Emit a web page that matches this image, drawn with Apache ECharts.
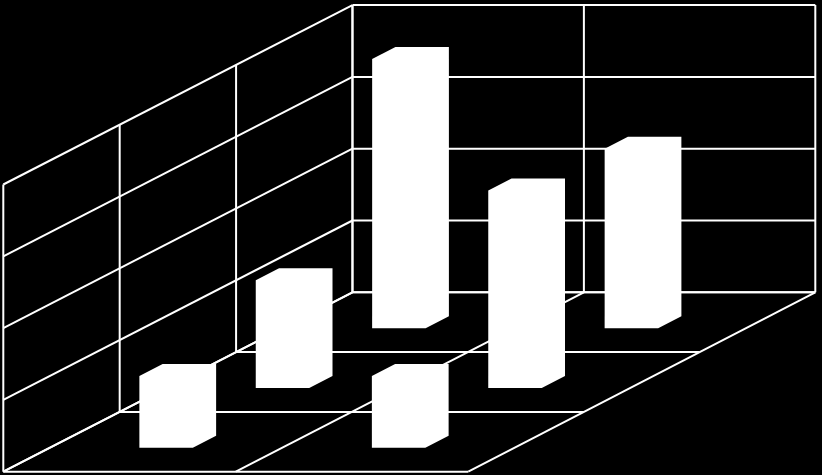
<!DOCTYPE html>
<html>
<head>
<meta charset="utf-8">
<style>html,body{margin:0;padding:0;background:#000}#c{width:822px;height:475px}</style>
<script src="https://cdn.jsdelivr.net/npm/echarts@6/dist/echarts.min.js"></script>
</head>
<body>
<div id="c"></div>
<script>
// Data (values in gridline steps)
const categoryTicks = [0, 1, 2];
const depthTicks = [0, 1, 2, 3];
const valueTicks = [0, 1, 2, 3, 4];
const rowFirstColumn = [1, 1.5, 3.75];
const rowSecondColumn = [1, 2.75, 2.5];

// Oblique projection constants
const depthShiftX = 0.5006, depthShiftY = 0.8329, backShrink = 0.00155;
const barHalfWidth = 0.115, barHalfDepth = 0.1;

const maxU = categoryTicks[categoryTicks.length - 1];
const maxD = depthTicks[depthTicks.length - 1];
const maxV = valueTicks[valueTicks.length - 1];

const segments = [];
valueTicks.forEach(v => segments.push([0, maxD, v, maxU, maxD, v]));
categoryTicks.forEach(u => segments.push([u, maxD, 0, u, maxD, maxV]));
valueTicks.forEach(v => segments.push([0, 0, v, 0, maxD, v]));
depthTicks.forEach(d => segments.push([0, d, 0, 0, d, maxV]));
depthTicks.forEach(d => segments.push([0, d, 0, maxU, d, 0]));
categoryTicks.forEach(u => segments.push([u, 0, 0, u, maxD, 0]));

const bars = [];
[rowFirstColumn, rowSecondColumn].forEach((col, c) =>
  col.forEach((val, r) => bars.push([c + 0.5, r + 0.5, val])));
// paint back rows first
bars.sort((a, b) => b[1] - a[1]);

function plane(u, d, v) { return [u + d * depthShiftX, v + d * depthShiftY]; }

const chart = echarts.init(document.getElementById('c'), null, { renderer: 'canvas' });
chart.setOption({
  animation: false,
  backgroundColor: '#000',
  grid: { left: 3.3, top: 5, width: 813.75, height: 466.7 },
  xAxis: { type: 'value', min: 0, max: 3.5, show: false },
  yAxis: { type: 'value', min: 0, max: 6.5, show: false },
  series: [
    {
      type: 'custom',
      coordinateSystem: 'cartesian2d',
      silent: true,
      clip: false,
      z: 1,
      data: segments,
      encode: { x: [0, 3], y: [2, 5] },
      renderItem(params, api) {
        const p = i => {
          const u = api.value(i), d = api.value(i + 1), v = api.value(i + 2);
          return api.coord(plane(u * (1 - backShrink * d), d, v));
        };
        const a = p(0), b = p(3);
        return {
          type: 'line',
          shape: { x1: a[0], y1: a[1], x2: b[0], y2: b[1] },
          style: { stroke: '#fff', lineWidth: 2, fill: null }
        };
      }
    },
    {
      type: 'custom',
      coordinateSystem: 'cartesian2d',
      silent: true,
      clip: false,
      z: 2,
      data: bars,
      encode: { x: 0, y: 2 },
      renderItem(params, api) {
        const u = api.value(0), d = api.value(1), val = api.value(2);
        const u0 = u - barHalfWidth, u1 = u + barHalfWidth;
        const d0 = d - barHalfDepth, d1 = d + barHalfDepth;
        const corners = [
          [u0, d0, 0], [u1, d0, 0], [u1, d1, 0],
          [u1, d1, val], [u0, d1, val], [u0, d0, val]
        ];
        return {
          type: 'polygon',
          shape: { points: corners.map(c => api.coord(plane(c[0], c[1], c[2]))) },
          style: { fill: '#fff', stroke: null }
        };
      }
    }
  ]
});
</script>
</body>
</html>
